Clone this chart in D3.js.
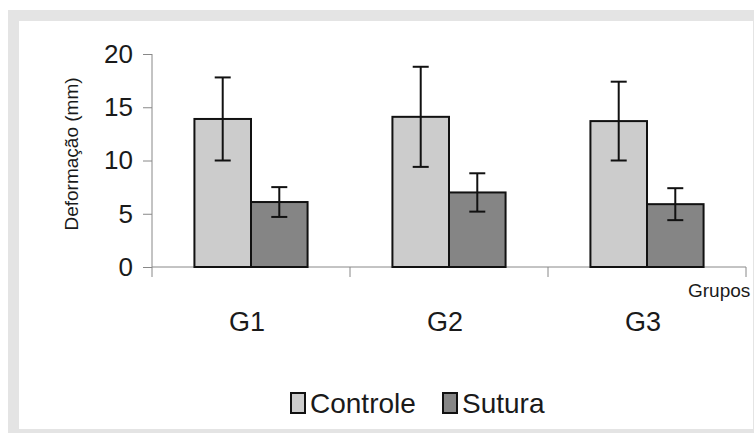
<!DOCTYPE html>
<html>
<head>
<meta charset="utf-8">
<script src="https://d3js.org/d3.v7.min.js"></script>
<style>
  body { margin: 0; background: #fff; }
  svg { display: block; font-family: "Liberation Sans", Arial, sans-serif; }
</style>
</head>
<body>
<div id="chart"></div>
<script>
// data
var groups = ["G1", "G2", "G3"];
var series = ["Controle", "Sutura"];
var controle = [13.9, 14.1, 13.7];
var controleErr = [3.9, 4.7, 3.7];
var sutura = [6.1, 7.0, 5.9];
var suturaErr = [1.4, 1.8, 1.5];
var yTicks = [0, 5, 10, 15, 20];

var width = 754, height = 433;
var colors = { Controle: "#cccccc", Sutura: "#858585" };

var rows = [];
groups.forEach(function(g, i) {
  rows.push({ group: g, key: "Controle", value: controle[i], err: controleErr[i] });
  rows.push({ group: g, key: "Sutura", value: sutura[i], err: suturaErr[i] });
});

var svg = d3.select("#chart").append("svg")
  .attr("width", width)
  .attr("height", height);

// grey frame
svg.append("rect").attr("x", 8).attr("y", 10).attr("width", 746).attr("height", 423).attr("fill", "#e4e4e4");
svg.append("rect").attr("x", 19).attr("y", 21).attr("width", 734).attr("height", 408).attr("fill", "#fff");

var x = d3.scaleBand().domain(groups).range([152, 746]).paddingInner(0).paddingOuter(0);
var xs = d3.scaleBand().domain(series).range([0, x.bandwidth()]).paddingInner(0).paddingOuter(0.75);
var y = d3.scaleLinear().domain([0, 20]).range([267, 54]);

// y axis
var yAxis = svg.append("g")
  .attr("transform", "translate(152,0)")
  .call(d3.axisLeft(y).tickValues(yTicks).tickSize(9).tickPadding(10).tickSizeOuter(0));
yAxis.select(".domain").remove();
yAxis.selectAll(".tick line").attr("stroke", "#888");
yAxis.selectAll("text").attr("font-size", 26).attr("fill", "#1a1a1a").attr("font-family", "Liberation Sans, Arial, sans-serif");
svg.append("line").attr("x1", 152).attr("x2", 152).attr("y1", y(20)).attr("y2", 277).attr("stroke", "#888");

// x axis
svg.append("line").attr("x1", 152).attr("x2", 746).attr("y1", y(0)).attr("y2", y(0)).attr("stroke", "#888");
var bounds = groups.map(function(g) { return x(g); }).concat([x.range()[1]]);
svg.selectAll(".xtick").data(bounds.slice(1)).join("line")
  .attr("class", "xtick")
  .attr("x1", function(d) { return d; }).attr("x2", function(d) { return d; })
  .attr("y1", y(0)).attr("y2", y(0) + 10)
  .attr("stroke", "#888");

svg.selectAll(".xlab").data(groups).join("text")
  .attr("class", "xlab")
  .attr("x", function(d) { return x(d) + x.bandwidth() / 2 - 4; })
  .attr("y", 331)
  .attr("text-anchor", "middle")
  .attr("font-size", 27)
  .attr("fill", "#1a1a1a")
  .text(function(d) { return d; });

// bars
svg.append("g").selectAll("rect").data(rows).join("rect")
  .attr("x", function(d) { return x(d.group) + xs(d.key); })
  .attr("y", function(d) { return y(d.value); })
  .attr("width", xs.bandwidth())
  .attr("height", function(d) { return y(0) - y(d.value); })
  .attr("fill", function(d) { return colors[d.key]; })
  .attr("stroke", "#111")
  .attr("stroke-width", 2);

// error bars
var eb = svg.append("g").attr("stroke", "#111").attr("stroke-width", 2)
  .selectAll("g").data(rows).join("g")
  .attr("transform", function(d) { return "translate(" + (x(d.group) + xs(d.key) + xs.bandwidth() / 2) + ",0)"; });
eb.append("line")
  .attr("y1", function(d) { return y(d.value + d.err); })
  .attr("y2", function(d) { return y(d.value - d.err); });
eb.append("line").attr("x1", -8).attr("x2", 8)
  .attr("y1", function(d) { return y(d.value + d.err); })
  .attr("y2", function(d) { return y(d.value + d.err); });
eb.append("line").attr("x1", -8).attr("x2", 8)
  .attr("y1", function(d) { return y(d.value - d.err); })
  .attr("y2", function(d) { return y(d.value - d.err); });

// axis titles
svg.append("text")
  .attr("transform", "translate(78,154) rotate(-90)")
  .attr("text-anchor", "middle")
  .attr("font-size", 19)
  .attr("fill", "#1a1a1a")
  .text("Deformação (mm)");

svg.append("text")
  .attr("x", 688).attr("y", 297)
  .attr("font-size", 19)
  .attr("fill", "#1a1a1a")
  .text("Grupos");

// legend
var legX = [291, 443];
var leg = svg.selectAll(".leg").data(series).join("g")
  .attr("class", "leg")
  .attr("transform", function(d, i) { return "translate(" + legX[i] + ",0)"; });
leg.append("rect").attr("x", 0).attr("y", 393).attr("width", 14).attr("height", 20)
  .attr("fill", function(d) { return colors[d]; })
  .attr("stroke", "#111").attr("stroke-width", 2);
leg.append("text").attr("x", 19).attr("y", 413)
  .attr("font-size", 28)
  .attr("fill", "#1a1a1a")
  .text(function(d) { return d; });

// right frame edge drawn last so "Grupos" is clipped like the original
svg.append("rect").attr("x", 753).attr("y", 10).attr("width", 1).attr("height", 423).attr("fill", "#e4e4e4");
</script>
</body>
</html>
